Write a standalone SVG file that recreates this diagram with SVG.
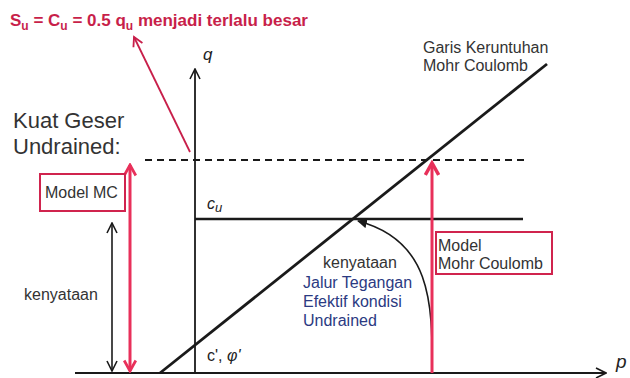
<svg xmlns="http://www.w3.org/2000/svg" width="630" height="378" viewBox="0 0 630 378">
<style>
text{font-family:"Liberation Sans",Arial,sans-serif}
.red{fill:#c81f4a}
.blk{stroke:#1a1a1a;fill:none}
.pink{stroke:#e8305a;fill:none}
.lbl{fill:#333;font-size:16px}
.blue{fill:#2b3a82;font-size:16px}
.box{fill:#fff;stroke:#d0244e;stroke-width:2}
</style>
<defs>
<marker id="openBlk" viewBox="0 0 12 12" refX="11" refY="6" markerWidth="12" markerHeight="12" markerUnits="userSpaceOnUse" orient="auto-start-reverse">
<path d="M1,1 L11,6 L1,11" fill="none" stroke="#1a1a1a" stroke-width="1.6"/>
</marker>
<marker id="openPink" viewBox="0 0 12 12" refX="10" refY="6" markerWidth="14" markerHeight="14" markerUnits="userSpaceOnUse" orient="auto-start-reverse">
<path d="M1,1 L10,6 L1,11" fill="none" stroke="#e8305a" stroke-width="2.4"/>
</marker>
<marker id="openRed" viewBox="0 0 12 12" refX="10" refY="6" markerWidth="12" markerHeight="12" markerUnits="userSpaceOnUse" orient="auto">
<path d="M1,1 L10,6 L1,11" fill="none" stroke="#c81f4a" stroke-width="1.8"/>
</marker>
<marker id="pinkHead" viewBox="0 0 12 12" refX="10" refY="6" markerWidth="16" markerHeight="16" markerUnits="userSpaceOnUse" orient="auto">
<path d="M1,1 L10,6 L1,11" fill="none" stroke="#e8305a" stroke-width="2.6"/>
</marker>
<marker id="fillBlk" viewBox="0 0 10 10" refX="9" refY="5" markerWidth="10" markerHeight="10" markerUnits="userSpaceOnUse" orient="auto">
<path d="M0,0 L10,5 L0,10 z" fill="#1a1a1a"/>
</marker>
</defs>

<g id="connectors">
<line class="blk" x1="75" y1="373" x2="606" y2="373" stroke-width="2" marker-end="url(#openBlk)"/>
<line class="blk" x1="195" y1="373" x2="195" y2="69" stroke-width="1.8" marker-end="url(#openBlk)"/>
<line class="blk" x1="145" y1="160" x2="525" y2="160" stroke-width="1.8" stroke-dasharray="7,5"/>
<line class="blk" x1="195" y1="219" x2="523" y2="219" stroke-width="2.5"/>
<line class="blk" x1="160" y1="373" x2="547" y2="64" stroke-width="2.8"/>
<path class="blk" d="M432,373 C433,300 430,240 358,221" stroke-width="1.6" marker-end="url(#fillBlk)"/>
<line x1="190" y1="152" x2="134" y2="37" stroke="#c81f4a" stroke-width="1.8" marker-end="url(#openRed)"/>
<line class="pink" x1="130" y1="165" x2="130" y2="371" stroke-width="3" marker-start="url(#openPink)" marker-end="url(#openPink)"/>
<line class="blk" x1="112" y1="223" x2="112" y2="371" stroke-width="1.6" marker-start="url(#openBlk)" marker-end="url(#openBlk)"/>
<line class="pink" x1="432" y1="373" x2="432" y2="163" stroke-width="3" marker-end="url(#pinkHead)"/>
</g>

<g id="title">
<text x="10" y="26" class="red" font-size="17" font-weight="bold">S<tspan font-size="12" dy="4">u</tspan><tspan dy="-4"> = C</tspan><tspan font-size="12" dy="4">u</tspan><tspan dy="-4"> = 0.5 q</tspan><tspan font-size="12" dy="4">u</tspan><tspan dy="-4"> menjadi terlalu besar</tspan></text>
</g>

<g id="axis-labels">
<text x="203" y="60" font-size="17" font-style="italic" fill="#222">q</text>
<text x="616" y="368" font-size="19" font-style="italic" fill="#222">p</text>
</g>

<g id="kuat-geser">
<text x="13" y="128" font-size="22" fill="#333">Kuat Geser</text>
<text x="13" y="154" font-size="22" fill="#333">Undrained:</text>
</g>

<g id="garis-keruntuhan">
<text x="423" y="53" class="lbl">Garis Keruntuhan</text>
<text x="423" y="71" class="lbl">Mohr Coulomb</text>
</g>

<g id="model-mc">
<rect class="box" x="40" y="174" width="85" height="37"/>
<text x="45" y="198" class="lbl" font-size="16.5">Model MC</text>
</g>

<g id="kenyataan-left">
<text x="24" y="300" class="lbl">kenyataan</text>
</g>

<g id="cu-label">
<text x="207" y="209" font-size="16" font-style="italic" fill="#222">c<tspan font-size="13" dy="3">u</tspan></text>
</g>

<g id="c-phi-label">
<text x="207" y="361" font-size="16" fill="#222">c', <tspan font-style="italic">φ'</tspan></text>
</g>

<g id="stress-path-label">
<text x="323" y="268" class="lbl">kenyataan</text>
<text x="303" y="288" class="blue">Jalur Tegangan</text>
<text x="303" y="307" class="blue">Efektif kondisi</text>
<text x="303" y="326" class="blue">Undrained</text>
</g>

<g id="model-mohr-coulomb">
<rect class="box" x="436" y="232" width="116" height="42"/>
<text x="438" y="251" class="lbl">Model</text>
<text x="438" y="269" class="lbl">Mohr Coulomb</text>
</g>
</svg>
